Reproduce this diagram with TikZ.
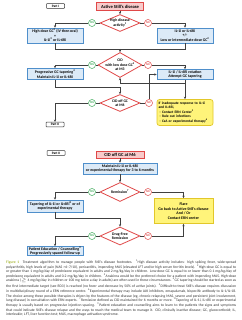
\documentclass[tikz,border=0pt]{standalone}
\usepackage{fontspec}
\setmainfont{Carlito}
\usepackage{tikz}
\usetikzlibrary{shapes.geometric,arrows.meta,positioning}
\usepackage{xcolor}
\definecolor{redline}{HTML}{E04848}
\definecolor{redfill}{HTML}{F8CBCB}
\definecolor{blueline}{HTML}{4F8FCB}
\definecolor{bluefill}{HTML}{DCEAF7}
\definecolor{yelfill}{HTML}{FFF47A}
\definecolor{yelline}{HTML}{E2C72A}
\definecolor{yesgreen}{HTML}{3DAA5A}
\definecolor{conncol}{HTML}{404040}
\definecolor{figgreen}{HTML}{A9B93A}
\newcommand{\sq}[1]{\textsuperscript{#1}}
\newcommand{\capline}[1]{\makebox[230pt][s]{#1}}

\begin{document}
\begin{tikzpicture}[
    x=1pt, y=-1pt,
    >={Stealth[length=2.4pt,width=2.2pt]},
    boxfont/.style={font=\fontsize{3.9}{4.6}\selectfont\bfseries},
    partbox/.style={rectangle, draw=black!80, rounded corners=0.6pt, line width=0.5pt, fill=white, minimum width=18pt, minimum height=4.6pt, inner sep=0pt, font=\fontsize{3.4}{3.8}\selectfont\bfseries},
    redbox/.style={rectangle, draw=redline, fill=redfill, line width=0.7pt, inner sep=0pt, font=\fontsize{4.6}{5.3}\selectfont\bfseries},
    bluebox/.style={rectangle, draw=blueline, fill=bluefill, line width=0.7pt, inner sep=0pt, align=center, boxfont},
    yelbox/.style={rectangle, draw=yelline, fill=yelfill, line width=0.7pt, inner sep=1.5pt, boxfont},
    decision/.style={diamond, draw=redline, fill=white, line width=0.8pt, inner sep=-2.5pt, aspect=2, align=center, font=\fontsize{3.8}{4.4}\selectfont\bfseries},
    yes/.style={circle, draw=yesgreen, fill=white, line width=0.5pt, minimum size=7pt, inner sep=0pt, text=yesgreen, font=\fontsize{2.8}{3}\selectfont\bfseries},
    no/.style={circle, draw=redline, fill=white, line width=0.5pt, minimum size=7pt, inner sep=0pt, text=redline, font=\fontsize{2.8}{3}\selectfont\bfseries},
    conn/.style={draw=conncol, line width=0.7pt}
]
    \useasboundingbox[fill=white] (0,0) rectangle (241,320);

    % Part I
    \node[partbox] (part1) at (55.5,6) {Part I};
    \node[redbox, minimum width=47pt, minimum height=7.5pt] (active) at (120,6.5) {Active Still's disease};
    \node[decision, minimum width=40pt, minimum height=17pt] (d1) at (120,23) {High disease\\activity\sq{1}};
    \node[yes] (yes1) at (92,23) {YES};
    \node[no] (no1) at (148,23) {NO};
    \node[bluebox, minimum width=56pt, minimum height=15pt] (highdose) at (55,35.5) {High dose GC\sq{2} (IV then oral)\\+\\IL-1i\sq{3} or IL-6Ri};
    \node[bluebox, minimum width=56pt, minimum height=15pt] (lowdose) at (185,35.5) {IL-1i or IL-6Ri\\+/-\\Low or intermediate dose GC\sq{2}};
    \coordinate (join1) at (120,49);

    \node[decision, minimum width=44pt, minimum height=25pt] (d2) at (120,65) {CID\\with low dose GC\sq{2}\\at M3};
    \node[yes] (yes2) at (92,65) {YES};
    \node[no] (no2) at (148,65) {NO};
    \node[bluebox, minimum width=56pt, minimum height=11pt] (taper1) at (55,74) {Progressive GC tapering\sq{4}\\Maintain IL-1i or IL-6Ri};
    \node[bluebox, minimum width=56pt, minimum height=10pt] (rotation) at (185,74.5) {IL-1i / IL-6Ri rotation\\Attempt GC tapering};
    \coordinate (join2) at (185,83);
    \coordinate (join3) at (120,87);

    \node[decision, minimum width=40pt, minimum height=17pt] (d3) at (120,103) {CID off GC\\at M6};
    \node[yes] (yes3) at (92,103) {YES};
    \node[no] (no3) at (149,103) {NO};
    \node[partbox] (gopart2) at (55,124.5) {Part II};
    \node[yelbox, rounded corners=2.5pt, minimum width=55pt, minimum height=26pt, align=left, text width=53pt, font=\fontsize{3.6}{4.5}\selectfont\bfseries] (inadequate) at (185,112.5) {If inadequate response to IL-1i\\and IL-6Ri,\\\ - Contact ERN Center\sq{5}\\\ - Rule out infections\\\ - CsA or experimental therapy\sq{6}};

    \draw[conn, ->] (active) -- (d1);
    \draw[conn] (d1.west) -- (yes1.east);
    \draw[conn, ->] (yes1.west) -| (highdose.north);
    \draw[conn] (d1.east) -- (no1.west);
    \draw[conn, ->] (no1.east) -| (lowdose.north);
    \draw[conn] (highdose.south) |- (join1);
    \draw[conn] (lowdose.south) |- (join1);
    \draw[conn, ->] (join1) -- (d2.north);

    \draw[conn] (d2.west) -- (yes2.east);
    \draw[conn, ->] (yes2.west) -| (taper1.north);
    \draw[conn] (d2.east) -- (no2.west);
    \draw[conn, ->] (no2.east) -| (rotation.north);
    \draw[conn] (rotation.south) -- (join2);
    \draw[conn, ->] (join2) -| (d2.south);
    \draw[conn, ->] (join2) -- (inadequate.north);
    \draw[conn] (taper1.south) |- (join3);
    \draw[conn, ->] (join3) -- (d3.north);

    \draw[conn] (d3.west) -- (yes3.east);
    \draw[conn, ->] (yes3.west) -| (gopart2.north);
    \draw[conn] (d3.east) -- (no3.west);
    \draw[conn, ->] (no3.north) |- (rotation.west);

    % Part II
    \node[partbox] (part2) at (56,153) {Part II};
    \node[redbox, minimum width=48pt, minimum height=7pt] (cidoff) at (120,154.5) {CID off GC at M6};
    \node[bluebox, minimum width=74pt, minimum height=11pt] (maintain) at (120,168.5) {Maintain IL-1i or IL-6Ri\\or experimental therapy for 3 to 6 months};
    \node[decision, minimum width=40pt, minimum height=19pt] (d4) at (120,192) {Remission\sq{7}};
    \node[yes] (yes4) at (92,192) {YES};
    \node[no] (no4) at (148,192) {NO};
    \node[bluebox, minimum width=56pt, minimum height=12pt] (taper2) at (55,206) {Tapering of IL-1i or IL-6Ri\sq{8} or of\\experimental therapy};
    \node[yelbox, minimum width=59pt, minimum height=25pt, align=center] (flare) at (183.5,211) {Flare\\Go back to Active Still's disease\\And / Or\\Contact ERN center};
    \coordinate (join4) at (120,218);
    \node[decision, minimum width=40pt, minimum height=18pt] (d5) at (120,236) {Drug-Free\\Remission};
    \node[yes] (yes5) at (92,236) {YES};
    \node[no] (no5) at (148,236) {NO};
    \node[bluebox, minimum width=56pt, minimum height=9pt] (education) at (55,251) {Patient Education / Counselling\sq{9}\\Progressively spaced follow-up};

    \draw[conn, ->] (cidoff) -- (maintain);
    \draw[conn, ->] (maintain) -- (d4);
    \draw[conn] (d4.west) -- (yes4.east);
    \draw[conn, ->] (yes4.west) -| (taper2.north);
    \draw[conn] (d4.east) -- (no4.west);
    \draw[conn, ->] (no4.east) -| (flare.north);
    \draw[conn] (taper2.south) |- (join4);
    \draw[conn, ->] (join4) -- (d5.north);
    \draw[conn] (d5.west) -- (yes5.east);
    \draw[conn, ->] (yes5.west) -| (education.north);
    \draw[conn] (d5.east) -- (no5.west);
    \draw[conn, ->] (no5.east) -| (flare.south);

    % Caption
    \node[anchor=north west, inner sep=0pt, align=left, text=black!80, font=\fontsize{3.7}{4.65}\selectfont] (caption) at (6,259.5) {%
\capline{\textcolor{figgreen}{\textbf{Figure 1}}\quad Treatment algorithm to manage people with Still's disease footnotes. \sq{1}High disease activity includes: high spiking fever, wide-spread}\\
\capline{polyarthritis, high levels of pain (NAS >6--7/10), pericarditis, impending MAS (elevated LFT and/or high serum ferritin levels). \sq{2}High-dose GC is equal to}\\
\capline{or greater than 1 mg/kg/day of prednisone equivalent in adults and 2 mg/kg/day in children. Low-dose GC is equal to or lower than 0.1 mg/kg/day of}\\
\capline{prednisone equivalent in adults and 0.2 mg/kg/day in children. \sq{3}Anakinra would be the preferred choice for a patient with impending MAS. High-dose}\\
\capline{anakinra (${\geq}$ 4 mg/kg/day in children or 100 mg twice a day in adults) are often used in these circumstances. \sq{4}GC tapering should be started as soon as}\\
\capline{the first intermediate target (see RD3) is reached (no fever and decrease by 50\% of active joints). \sq{5}Difficult-to-treat Still's disease requires discussion}\\
\capline{in multidisciplinary round of a ERN reference centre. \sq{6}Experimental therapy may include JAK inhibitors, emapalumab, bispecific antibody to IL-1/IL-18.}\\
\capline{The choice among these possible therapies is driven by the features of the disease (eg, chronic relapsing MAS, severe and persistent joint involvement,}\\
\capline{lung disease) in consultation with ERN experts. \sq{7}Remission defined as CID maintained for 6 months or more. \sq{8}Tapering of IL-1i, IL-6Ri or experimental}\\
\capline{therapy is usually based on progressive injection spacing. \sq{9}Patient education and counselling aims to learn to the patients the signs and symptoms}\\
\capline{that could indicate Still's disease relapse and the ways to reach the medical team to manage it. CID, clinically inactive disease; GC, glucocorticoid; IL,}\\
interleukin; LFT, liver function test; MAS, macrophage activation syndrome.};
\end{tikzpicture}
\end{document}
